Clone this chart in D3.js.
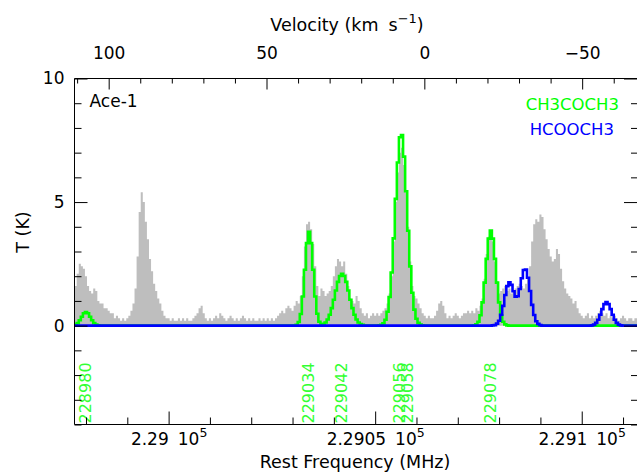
<!DOCTYPE html>
<html>
<head>
<meta charset="utf-8">
<script src="https://cdn.jsdelivr.net/npm/d3@7"></script>
<style>
  body { margin: 0; background: #fff; }
  svg text { font-family: "DejaVu Sans", sans-serif; }
</style>
</head>
<body>
<svg id="chart" width="637" height="473"></svg>
<script>
// ---- spectrum channels (MHz) ----
const channelStart = 228977.0;
const channelStep = 0.5;

// observed brightness temperature per channel (K)
const observedT = [
  1.6, 1.6, 2.1, 2.5, 2.4, 2.3, 2.0, 1.6, 1.4, 1.3,   // 228977.0
  1.5, 1.4, 1.0, 0.9, 0.9, 0.7, 0.7, 0.6, 0.5, 0.5,   // 228982.0
  0.3, 0.4, 0.3, 0.2, 0.3, 0.2, 0.3, 0.4, 0.6, 0.9,   // 228987.0
  1.5, 2.8, 4.6, 5.4, 5.0, 4.2, 3.5, 2.7, 2.2, 1.7,   // 228992.0
  1.4, 1.1, 0.9, 0.6, 0.4, 0.3, 0.3, 0.2, 0.3, 0.2,   // 228997.0
  0.2, 0.3, 0.2, 0.3, 0.2, 0.3, 0.2, 0.2, 0.3, 0.4,   // 229002.0
  0.5, 0.7, 0.8, 0.5, 0.3, 0.2, 0.3, 0.2, 0.3, 0.4,   // 229007.0
  0.3, 0.5, 0.4, 0.3, 0.2, 0.3, 0.4, 0.3, 0.2, 0.3,   // 229012.0
  0.2, 0.3, 0.4, 0.3, 0.2, 0.3, 0.2, 0.3, 0.2, 0.2,   // 229017.0
  0.3, 0.2, 0.3, 0.2, 0.3, 0.2, 0.3, 0.2, 0.3, 0.4,   // 229022.0
  0.5, 0.6, 0.5, 0.7, 0.8, 0.7, 0.6, 0.8, 1.0, 0.9,   // 229027.0
  1.2, 2.0, 3.2, 4.1, 4.2, 3.9, 3.3, 2.4, 1.6, 1.2,   // 229032.0
  1.5, 1.4, 1.2, 1.3, 1.4, 1.6, 2.0, 2.4, 2.7, 2.6,   // 229037.0
  2.4, 2.6, 2.1, 1.6, 1.1, 1.0, 0.9, 1.2, 1.0, 0.7,   // 229042.0
  0.5, 0.4, 0.5, 0.3, 0.4, 0.5, 0.4, 0.5, 0.4, 0.5,   // 229047.0
  0.6, 0.7, 0.9, 1.3, 2.0, 3.4, 5.0, 6.2, 7.0, 7.2,   // 229052.0
  6.5, 5.4, 4.0, 2.6, 1.6, 1.2, 1.1, 0.9, 0.7, 0.5,   // 229057.0
  0.4, 0.3, 0.4, 0.3, 0.3, 0.4, 0.6, 0.9, 1.0, 0.8,   // 229062.0
  0.5, 0.3, 0.4, 0.3, 0.4, 0.5, 0.4, 0.3, 0.4, 0.5,   // 229067.0
  0.5, 0.6, 0.5, 0.6, 0.5, 0.7, 0.6, 0.8, 1.1, 1.9,   // 229072.0
  2.9, 3.6, 3.8, 3.4, 2.6, 1.8, 1.3, 1.4, 1.5, 1.6,   // 229077.0
  1.4, 1.5, 1.3, 1.4, 1.5, 1.6, 1.7, 1.6, 1.5, 1.7,   // 229082.0
  1.9, 2.4, 3.4, 4.1, 4.3, 4.2, 4.5, 4.4, 3.9, 3.5,   // 229087.0
  3.1, 2.8, 2.6, 2.7, 3.1, 2.9, 2.3, 1.8, 1.5, 1.3,   // 229092.0
  1.2, 1.1, 0.9, 1.0, 0.7, 0.5, 0.4, 0.3, 0.4, 0.5,   // 229097.0
  0.3, 0.4, 0.3, 0.4, 0.5, 0.6, 0.5, 0.4, 0.5, 0.3,   // 229102.0
  0.4, 0.3, 0.4, 0.3, 0.2, 0.3, 0.4, 0.3, 0.2, 0.3,   // 229107.0
  0.3, 0.2, 0.3, 0.3, 0.2                             // 229112.0
];

// synthetic CH3COCH3 spectrum: non-zero stretches (start MHz + channel values)
const ch3coch3SegStart = [228977.0, 229031.0, 229051.0, 229074.0];
const ch3coch3SegValues = [
  [0.01, 0.04, 0.10, 0.22, 0.36, 0.50, 0.55, 0.50, 0.36, 0.22, 0.10, 0.04, 0.01],
  [0.03, 0.15, 0.47, 1.18, 2.26, 3.34, 3.80, 3.34, 2.26, 1.18, 0.48, 0.16, 0.06,
   0.07, 0.13, 0.25, 0.44, 0.71, 1.05, 1.42, 1.77, 2.01, 2.10, 2.01, 1.77, 1.42,
   1.05, 0.71, 0.44, 0.25, 0.13, 0.06, 0.03],
  [0.01, 0.03, 0.09, 0.24, 0.56, 1.16, 2.15, 3.53, 5.13, 6.60, 7.62, 7.71, 6.84,
   5.44, 3.84, 2.40, 1.33, 0.65, 0.28, 0.11, 0.04, 0.01],
  [0.01, 0.05, 0.16, 0.42, 0.94, 1.74, 2.70, 3.52, 3.85, 3.52, 2.70, 1.74, 0.94,
   0.42, 0.16, 0.05, 0.01]
];

// synthetic HCOOCH3 spectrum
const hcooch3SegStart = [229078.5, 229102.5];
const hcooch3SegValues = [
  [0.01, 0.02, 0.08, 0.20, 0.44, 0.80, 1.24, 1.60, 1.75, 1.65, 1.39, 1.17, 1.19,
   1.48, 1.92, 2.25, 2.27, 1.94, 1.40, 0.84, 0.43, 0.18, 0.07, 0.02],
  [0.01, 0.04, 0.11, 0.24, 0.44, 0.67, 0.87, 0.95, 0.87, 0.67, 0.44, 0.24, 0.11,
   0.04, 0.01]
];

// catalogued CH3COCH3 transitions (MHz)
const lineFreqs = [228980, 229034, 229042, 229056, 229058, 229078];
const lineLabels = ["228980", "229034", "229042", "229056", "229058", "229078"];

// axes
const freqDomain = [228977.22, 229113.62];
const freqMajorTicks = [229000, 229050, 229100];
const freqMajorLabels = ["2.29", "2.2905", "2.291"];
const tDomain = [-4, 10];
const tMajorTicks = [0, 5, 10];
const velocityMajorTicks = [100, 50, 0, -50];
const restFreq = 229061.9;   // MHz, zero of the velocity axis

const seriesNames = ["CH3COCH3", "HCOOCH3"];
const seriesColors = ["#00ff00", "#0000ff"];
const sourceName = "Ace-1";

// ---- layout ----
const pLeft = 74.5, pRight = 638, pTop = 78.5, pBottom = 424.5;
const svg = d3.select("#chart");

const x = d3.scaleLinear().domain(freqDomain).range([pLeft, pRight]);
const y = d3.scaleLinear().domain(tDomain).range([pBottom, pTop]);
const cLight = 299792.458;
const vel = f => cLight * (restFreq - f) / restFreq;
const xv = d3.scaleLinear().domain(freqDomain.map(vel)).range([pLeft, pRight]);

// channel table
const nChan = observedT.length;
const chanFreq = d3.range(nChan).map(i => channelStart + i * channelStep);
function expandSegments(starts, values) {
  const out = new Array(nChan).fill(0);
  starts.forEach((s, k) => {
    const i0 = Math.round((s - channelStart) / channelStep);
    values[k].forEach((v, j) => { if (i0 + j >= 0 && i0 + j < nChan) out[i0 + j] += v; });
  });
  return out;
}
const observed = chanFreq.map((f, i) => ({ f, v: observedT[i] }));
const models = [
  expandSegments(ch3coch3SegStart, ch3coch3SegValues),
  expandSegments(hcooch3SegStart, hcooch3SegValues)
].map(arr => chanFreq.map((f, i) => ({ f, v: arr[i] })));

svg.append("defs").append("clipPath").attr("id", "plotClip")
  .append("rect").attr("x", pLeft).attr("y", pTop)
  .attr("width", pRight - pLeft).attr("height", pBottom - pTop);

const plot = svg.append("g").attr("clip-path", "url(#plotClip)");

plot.append("path")
  .datum(observed)
  .attr("fill", "#bebebe")
  .attr("d", d3.area().curve(d3.curveStep)
    .x(d => x(d.f)).y0(y(0)).y1(d => y(d.v)));

models.forEach((m, k) => {
  plot.append("path")
    .datum(m)
    .attr("fill", "none")
    .attr("stroke", seriesColors[k])
    .attr("stroke-width", 2.6)
    .attr("stroke-linejoin", "miter")
    .attr("d", d3.line().curve(d3.curveStep).x(d => x(d.f)).y(d => y(d.v)));
});

// transition labels
svg.append("g").selectAll("text")
  .data(lineFreqs)
  .join("text")
  .attr("transform", d => `translate(${x(d) + 5},423.5) rotate(-90)`)
  .attr("fill", "#33ff33")
  .attr("font-size", 16)
  .text((d, i) => lineLabels[i]);

// ---- axes ----
const axisColor = "#000";
const tickFont = 17;
function styleAxis(g) {
  g.select(".domain").remove();
  g.selectAll(".tick line").attr("stroke", axisColor).attr("stroke-width", 1);
  g.selectAll("text").attr("fill", axisColor).attr("font-family", "DejaVu Sans, sans-serif");
}

const freqMinor = d3.range(228980, 229113, 10).filter(v => !freqMajorTicks.includes(v));
svg.append("g").attr("transform", `translate(0,${pBottom})`)
  .call(d3.axisBottom(x).tickValues(freqMinor).tickSizeInner(-7).tickSizeOuter(0).tickFormat(""))
  .call(styleAxis);
const bAxis = svg.append("g").attr("transform", `translate(0,${pBottom})`)
  .call(d3.axisBottom(x).tickValues(freqMajorTicks).tickSizeInner(-13).tickSizeOuter(0).tickPadding(20.5))
  .call(styleAxis);
bAxis.selectAll(".tick text").each(function (d, i) {
  const t = d3.select(this).text("").attr("font-size", tickFont).attr("dy", 0);
  t.append("tspan").text(freqMajorLabels[i]);
  t.append("tspan").attr("dx", 9).text("10");
  t.append("tspan").attr("dy", -8).attr("font-size", 12.5).text("5");
});

const tMinor = d3.range(-4, 11).filter(v => !tMajorTicks.includes(v));
svg.append("g").attr("transform", `translate(${pLeft},0)`)
  .call(d3.axisLeft(y).tickValues(tMinor).tickSizeInner(-7).tickSizeOuter(0).tickFormat(""))
  .call(styleAxis);
svg.append("g").attr("transform", `translate(${pLeft},0)`)
  .call(d3.axisLeft(y).tickValues(tMajorTicks).tickSizeInner(-13).tickSizeOuter(0).tickPadding(10).tickFormat(d3.format("d")))
  .call(styleAxis)
  .selectAll(".tick text").attr("font-size", tickFont);

svg.append("g").attr("transform", `translate(${pRight},0)`)
  .call(d3.axisRight(y).tickValues(tMinor).tickSizeInner(-7).tickSizeOuter(0).tickFormat(""))
  .call(styleAxis);
svg.append("g").attr("transform", `translate(${pRight},0)`)
  .call(d3.axisRight(y).tickValues(tMajorTicks).tickSizeInner(-14).tickSizeOuter(0).tickFormat(""))
  .call(styleAxis);

const vMinor = d3.range(-60, 111, 10).filter(v => !velocityMajorTicks.includes(v));
svg.append("g").attr("transform", `translate(0,${pTop})`)
  .call(d3.axisTop(xv).tickValues(vMinor).tickSizeInner(-5).tickSizeOuter(0).tickFormat(""))
  .call(styleAxis);
svg.append("g").attr("transform", `translate(0,${pTop})`)
  .call(d3.axisTop(xv).tickValues(velocityMajorTicks).tickSizeInner(-11).tickSizeOuter(0).tickPadding(19.5).tickFormat(d3.format("d")))
  .call(styleAxis)
  .selectAll(".tick text").attr("font-size", tickFont);

// frame
svg.append("path")
  .attr("d", `M${pRight},${pTop}H${pLeft}V${pBottom}H${pRight}`)
  .attr("fill", "none").attr("stroke", axisColor).attr("stroke-width", 1);

// ---- titles ----
const vt = svg.append("text").attr("x", 347).attr("y", 31)
  .attr("text-anchor", "middle").attr("font-size", 17.5).attr("fill", "#000");
vt.append("tspan").text("Velocity (km");
vt.append("tspan").attr("dx", 10).text("s");
vt.append("tspan").attr("dy", -8).attr("font-size", 13).text("−1");
vt.append("tspan").attr("dy", 8).text(")");

svg.append("text").attr("x", 355).attr("y", 468)
  .attr("text-anchor", "middle").attr("font-size", 17.5).attr("fill", "#000")
  .text("Rest Frequency (MHz)");

svg.append("text").attr("transform", "translate(29,232) rotate(-90)")
  .attr("text-anchor", "middle").attr("font-size", 17.5).attr("fill", "#000")
  .text("T (K)");

svg.append("text").attr("x", 89.5).attr("y", 107)
  .attr("font-size", 17).attr("fill", "#000").text(sourceName);

// legend
svg.append("g").selectAll("text")
  .data(seriesNames)
  .join("text")
  .attr("x", (d, i) => [619, 614][i])
  .attr("y", (d, i) => [109.5, 135][i])
  .attr("text-anchor", "end")
  .attr("font-size", 16.5)
  .attr("fill", (d, i) => seriesColors[i])
  .text(d => d);
</script>
</body>
</html>
